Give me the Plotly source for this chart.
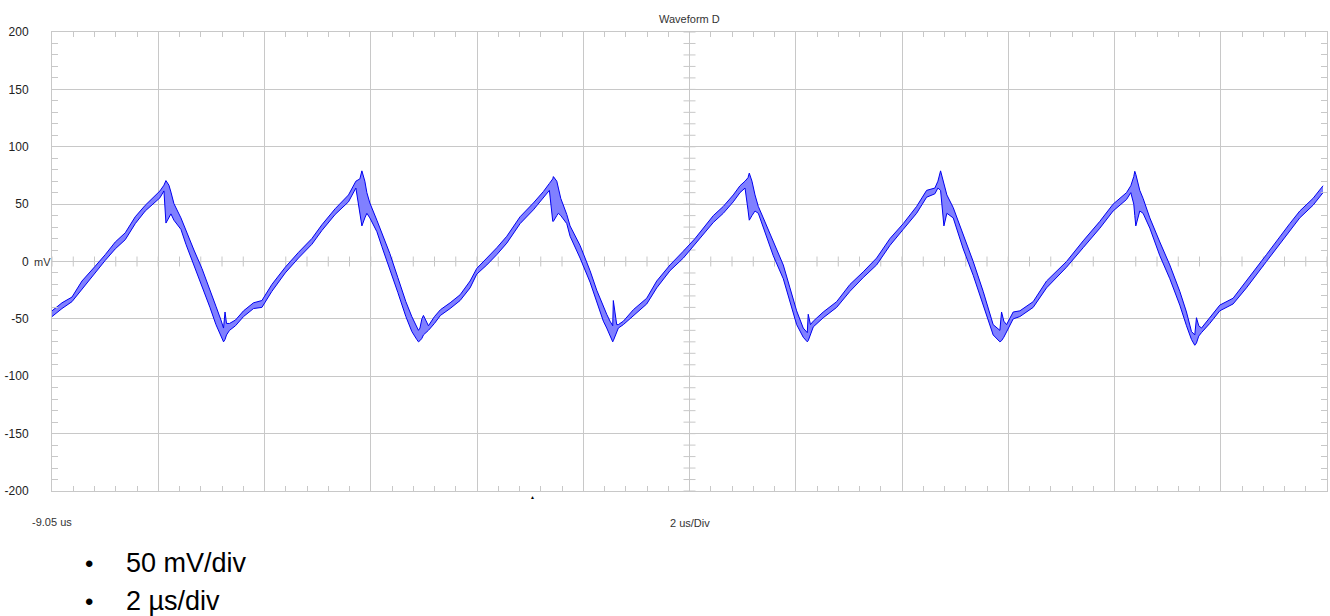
import plotly.graph_objects as go

# ---------------- data (time in microseconds, voltage in mV) ----------------
time_us = [
    -9.050, -8.862, -8.674, -8.486, -8.235, -8.047, -7.859, -7.671, -7.483, -7.295,
    -7.018, -6.943, -6.905, -6.849, -6.811, -6.755, -6.623, -6.529, -6.378, -6.228,
    -6.077, -5.964, -5.870, -5.821, -5.793, -5.765, -5.708, -5.596, -5.445, -5.257,
    -5.099, -4.911, -4.660, -4.410, -4.158, -3.970, -3.720, -3.469, -3.330, -3.255,
    -3.217, -3.161, -3.123, -3.067, -2.935, -2.841, -2.691, -2.540, -2.389, -2.277,
    -2.183, -2.152, -2.124, -2.088, -2.058, -1.964, -1.851, -1.738, -1.556, -1.368,
    -1.180, -1.054, -0.865, -0.677, -0.489, -0.239, 0.011, 0.200, 0.312, 0.376,
    0.388, 0.452, 0.482, 0.527, 0.640, 0.702, 0.890, 1.078, 1.204, 1.328,
    1.392, 1.454, 1.505, 1.516, 1.580, 1.611, 1.705, 1.893, 2.145, 2.333,
    2.583, 2.834, 3.054, 3.398, 3.586, 3.774, 3.900, 3.995, 4.051, 4.075,
    4.126, 4.183, 4.245, 4.339, 4.527, 4.715, 4.841, 4.967, 5.091, 5.167,
    5.185, 5.227, 5.280, 5.468, 5.720, 5.970, 6.220, 6.472, 6.723, 6.973,
    7.225, 7.413, 7.569, 7.626, 7.676, 7.739, 7.795, 7.914, 8.102, 8.290,
    8.478, 8.666, 8.792, 8.824, 8.867, 8.918, 9.043, 9.169, 9.419, 9.671,
    10.047, 10.360, 10.674, 10.924, 11.176, 11.257, 11.313, 11.332, 11.351, 11.426,
    11.488, 11.615, 11.803, 11.991, 12.179, 12.305, 12.399, 12.461, 12.493, 12.536,
    12.587, 12.743, 12.932, 13.182, 13.434, 13.810, 14.249, 14.437, 14.687, 14.875,
]

upper_mV = [
    -43, -36, -31, -17, -4, 6, 17, 25, 39, 49,
    61.5, 66.5, 70.5, 66.5, 60.5, 50.5, 38, 27, 10, -6,
    -24, -39, -51, -58, -44, -54, -54, -51, -43, -36,
    -34, -20, -5, 8, 20, 32, 46, 58, 70, 72,
    79, 70, 60, 51, 36, 25, 7, -14, -35, -48,
    -58, -60, -58, -50, -47, -56, -48, -42, -36, -29,
    -17, -6, 3, 12, 22, 39, 51, 61, 68, 72,
    74, 70, 64, 55, 41, 31, 14, -8, -25, -40,
    -46, -52, -56, -34, -55, -55, -52, -42, -32, -17,
    -3, 9, 20, 40, 48, 58, 66, 70, 73, 77,
    70, 58, 48, 38, 17, -3, -23, -43, -58, -62,
    -46, -55, -52, -44, -35, -20, -9, 3, 20, 33,
    48, 62, 64, 70, 79, 68, 58, 47, 23, 0,
    -26, -55, -60, -44, -52, -55, -44, -43, -35, -17,
    0, 18, 35, 50, 60, 66, 74, 78.6, 76, 62,
    55, 38, 17, -3, -26, -44, -61, -64, -49, -56,
    -58, -49, -38, -32, -17, 6, 33, 44, 55, 66,
]

lower_mV = [
    -48, -41, -35, -24, -9, 1, 11, 19, 33, 44,
    55.5, 61.5, 33.5, 38.5, 41.5, 36, 28, 15, -3, -21,
    -40, -55, -66, -70, -68, -64, -60, -56, -48, -41,
    -40, -26, -10, 3, 15, 27, 41, 52, 64, 40,
    31, 38, 42, 38, 26, 13, -6, -27, -48, -61,
    -68, -70, -69, -67, -64, -60, -54, -47, -41, -34,
    -23, -11, -3, 6, 16, 33, 45, 56, 62, 35,
    35, 40, 42, 40, 33, 22, 3, -18, -36, -52,
    -58, -64, -70, -69, -62, -58, -55, -47, -37, -23,
    -8, 3, 15, 34, 42, 52, 60, 64, 45, 36,
    40, 44, 42, 29, 5, -15, -35, -55, -66, -70,
    -69, -64, -57, -49, -40, -26, -14, -3, 14, 28,
    42, 56, 59, 64, 62, 31, 42, 38, 11, -12,
    -38, -64, -70, -69, -66, -61, -50, -48, -40, -23,
    -5, 12, 29, 44, 54, 60, 50, 40, 31, 44,
    42, 29, 5, -15, -38, -56, -68, -73, -71, -65,
    -62, -54, -43, -37, -23, 0, 27, 38, 49, 60,
]

y_tick_vals = [200, 150, 100, 50, 0, -50, -100, -150, -200]
y_tick_text = ["200", "150", "100", "50", "0", "-50", "-100", "-150", "-200"]

x_start_us = -9.05
us_per_div = 2
n_divs = 12
x_end_us = x_start_us + us_per_div * n_divs
x_center_us = x_start_us + us_per_div * n_divs / 2
trigger_us = 0.0

title_text = "Waveform D"
x_start_label = "-9.05 us"
timebase_label = "2 us/Div"
bullet_lines = ["50 mV/div", "2 µs/div"]

GRID = "#c8c8c8"
FILL = "#8080ff"
EDGE = "#0000f0"
FONT = "Liberation Sans, Arial, sans-serif"

fig = go.Figure()
fig.add_trace(go.Scatter(x=time_us, y=upper_mV, mode="lines",
                         line=dict(color=EDGE, width=1), hoverinfo="skip",
                         showlegend=False))
fig.add_trace(go.Scatter(x=time_us, y=lower_mV, mode="lines", fill="tonexty",
                         fillcolor=FILL, line=dict(color=EDGE, width=1),
                         hoverinfo="skip", showlegend=False))

# tick marks on the centre cross (decorative graticule)
shapes = []
minor_x = [x_start_us + 0.4 * i for i in range(int(n_divs * us_per_div / 0.4) + 1)]
minor_y = [-200 + 10 * i for i in range(41)]
for xv in minor_x:
    shapes.append(dict(type="line", xref="x", yref="y", ysizemode="pixel",
                       yanchor=0, y0=-5, y1=5, x0=xv, x1=xv,
                       line=dict(color=GRID, width=1), layer="below"))
for yv in minor_y:
    shapes.append(dict(type="line", xref="x", yref="y", xsizemode="pixel",
                       xanchor=x_center_us, x0=-6, x1=6, y0=yv, y1=yv,
                       line=dict(color=GRID, width=1), layer="below"))

annotations = [
    dict(text=title_text, x=0.5, y=1, xref="paper", yref="paper",
         xanchor="center", yanchor="bottom", yshift=5, showarrow=False,
         font=dict(family=FONT, size=11, color="#333333")),
    dict(text=x_start_label, x=0, y=0, xref="paper", yref="paper",
         xanchor="left", yanchor="middle", xshift=-22, yshift=-31,
         showarrow=False, font=dict(family=FONT, size=11, color="#333333")),
    dict(text=timebase_label, x=0.5, y=0, xref="paper", yref="paper",
         xanchor="center", yanchor="middle", yshift=-32, showarrow=False,
         font=dict(family=FONT, size=11, color="#333333")),
    dict(text="▲", x=trigger_us, y=0, xref="x", yref="paper",
         xanchor="center", yanchor="top", yshift=-1, showarrow=False,
         font=dict(family=FONT, size=5, color="#000000")),
    dict(text="mV", x=0, y=0, xref="paper", yref="y", xanchor="left",
         yanchor="middle", xshift=-20, showarrow=False,
         font=dict(family=FONT, size=11, color="#333333")),
]
for i, line in enumerate(bullet_lines):
    annotations.append(dict(text="•", x=0, y=0, xref="paper", yref="paper",
                            xanchor="center", yanchor="middle",
                            xshift=37, yshift=-72 - 38 * i, showarrow=False,
                            font=dict(family=FONT, size=24, color="#000000")))
    annotations.append(dict(text=line, x=0, y=0, xref="paper", yref="paper",
                            xanchor="left", yanchor="middle",
                            xshift=72, yshift=-72 - 38 * i, showarrow=False,
                            font=dict(family=FONT, size=27, color="#000000")))

fig.update_layout(
    width=1330, height=616,
    margin=dict(l=52, r=3, t=32, b=125, autoexpand=False),
    paper_bgcolor="white", plot_bgcolor="white",
    showlegend=False,
    shapes=shapes,
    annotations=annotations,
    xaxis=dict(range=[x_start_us, x_end_us], tick0=x_start_us, dtick=us_per_div,
               showgrid=True, gridcolor=GRID, gridwidth=1, zeroline=False,
               showline=True, linecolor=GRID, linewidth=1, mirror="ticks",
               ticks="inside", ticklen=5, tickcolor=GRID, showticklabels=False,
               automargin=False,
               minor=dict(ticks="inside", ticklen=5, tickcolor=GRID,
                          tick0=x_start_us, dtick=0.4, showgrid=False)),
    yaxis=dict(range=[-200, 200], tickmode="array", tickvals=y_tick_vals,
               ticktext=y_tick_text, showgrid=True, gridcolor=GRID, gridwidth=1,
               zeroline=False, showline=True, linecolor=GRID, linewidth=1,
               mirror="ticks", ticks="inside", ticklen=6, tickcolor=GRID,
               ticklabelstandoff=20, automargin=False,
               tickfont=dict(family=FONT, size=12, color="#222222"),
               minor=dict(ticks="inside", ticklen=6, tickcolor=GRID,
                          tick0=-200, dtick=10, showgrid=False)),
)

# remove the default 8px page margin so the figure fills the window exactly
fig.write_html("out.html",
               config={"displayModeBar": False},
               post_script="document.body.style.margin='0';document.body.style.overflow='hidden';")
